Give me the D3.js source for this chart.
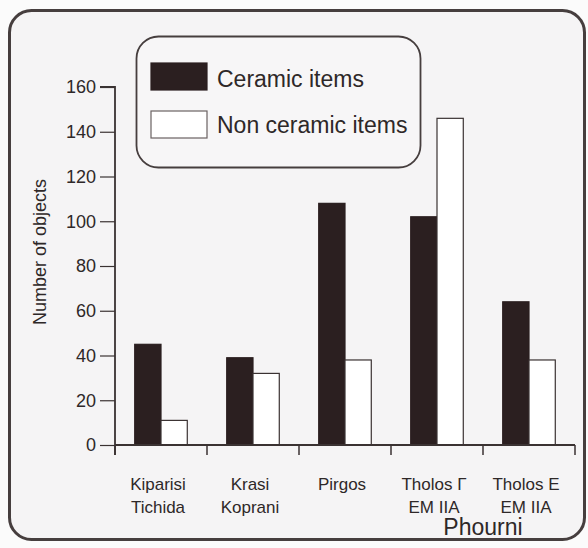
<!DOCTYPE html>
<html>
<head>
<meta charset="utf-8">
<script src="https://cdn.jsdelivr.net/npm/d3@7/dist/d3.min.js"></script>
<style>
  html, body { margin: 0; padding: 0; background: #fbfbfb; }
  svg { display: block; font-family: "Liberation Sans", Arial, sans-serif; }
</style>
</head>
<body>
<svg id="chart" width="588" height="548"></svg>
<script>
// Site names (two-line labels) and object counts per series
const sites = ["Kiparisi|Tichida", "Krasi|Koprani", "Pirgos", "Tholos \u0393|EM IIA", "Tholos E|EM IIA"];
const ceramic = [45, 39, 108, 102, 64];
const nonCeramic = [11, 32, 38, 146, 38];
const seriesNames = ["Ceramic items", "Non ceramic items"];
const yTicks = [0, 20, 40, 60, 80, 100, 120, 140, 160];

const ink = "#3a3232";
const textInk = "#2e2828";
const darkFill = "#2b1f20";

const svg = d3.select("#chart");

// Outer rounded frame
svg.append("rect")
  .attr("x", 9.5).attr("y", 10.5)
  .attr("width", 575).attr("height", 529)
  .attr("rx", 22).attr("ry", 22)
  .attr("fill", "#f5f4f5")
  .attr("stroke", "#463e3e")
  .attr("stroke-width", 3);

const margin = { left: 115, right: 13, top: 87, bottom: 103 };
const W = 588, H = 548;

const x = d3.scaleBand()
  .domain(sites)
  .range([margin.left, W - margin.right])
  .paddingInner(0)
  .paddingOuter(0);

const y = d3.scaleLinear()
  .domain([0, 160])
  .range([H - margin.bottom, margin.top]);

const inner = d3.scaleBand()
  .domain(seriesNames)
  .range([0, x.bandwidth()])
  .paddingOuter(0.75)
  .paddingInner(0);

// Bars
const g = svg.append("g");
sites.forEach((s, i) => {
  const vals = [ceramic[i], nonCeramic[i]];
  vals.forEach((v, k) => {
    g.append("rect")
      .attr("x", x(s) + inner(seriesNames[k]))
      .attr("y", y(v))
      .attr("width", inner.bandwidth())
      .attr("height", y(0) - y(v))
      .attr("fill", k === 0 ? darkFill : "#ffffff")
      .attr("stroke", k === 0 ? darkFill : ink)
      .attr("stroke-width", 1.2);
  });
});

// Y axis
const yAxis = d3.axisLeft(y).tickValues(yTicks).tickSize(15).tickPadding(4);
const yg = svg.append("g")
  .attr("transform", `translate(${margin.left},0)`)
  .call(yAxis);
yg.select(".domain").attr("stroke", ink).attr("stroke-width", 1.8).attr("d", `M-15,${y(160)}H0V${y(0) + 10}`);
yg.selectAll(".tick line").attr("stroke", ink).attr("stroke-width", 1.2);
yg.selectAll(".tick text")
  .attr("fill", textInk)
  .attr("font-size", 18)
  .attr("font-family", "Liberation Sans, Arial, sans-serif");

// X axis with boundary ticks between categories
const xBounds = sites.map(s => x(s)).concat([x(sites[sites.length - 1]) + x.bandwidth()]);
const xg = svg.append("g");
xg.append("line")
  .attr("x1", margin.left).attr("x2", xBounds[xBounds.length - 1])
  .attr("y1", y(0)).attr("y2", y(0))
  .attr("stroke", ink).attr("stroke-width", 1.8);
xg.selectAll("line.tk").data(xBounds).join("line")
  .attr("class", "tk")
  .attr("x1", d => d).attr("x2", d => d)
  .attr("y1", y(0)).attr("y2", y(0) + 10)
  .attr("stroke", ink).attr("stroke-width", 1.5);

// Category labels
sites.forEach(s => {
  const lines = s.split("|");
  const cx = x(s) + x.bandwidth() / 2 - 3;
  lines.forEach((ln, j) => {
    svg.append("text")
      .attr("x", cx)
      .attr("y", 490 + j * 23)
      .attr("text-anchor", "middle")
      .attr("font-size", 17)
      .attr("fill", textInk)
      .text(ln);
  });
});

// Group label under the two Phourni tombs
svg.append("text")
  .attr("x", x(sites[3]) + x.bandwidth())
  .attr("y", 535)
  .attr("text-anchor", "middle")
  .attr("font-size", 23)
  .attr("fill", textInk)
  .text("Phourni");

// Y axis title
svg.append("text")
  .attr("transform", `translate(46,252) rotate(-90)`)
  .attr("text-anchor", "middle")
  .attr("font-size", 18)
  .attr("fill", textInk)
  .text("Number of objects");

// Legend
const lg = svg.append("g");
lg.append("rect")
  .attr("x", 136.5).attr("y", 36.5)
  .attr("width", 284).attr("height", 131)
  .attr("rx", 22).attr("ry", 22)
  .attr("fill", "#f7f6f7")
  .attr("stroke", "#463e3e")
  .attr("stroke-width", 1.8);
seriesNames.forEach((n, k) => {
  lg.append("rect")
    .attr("x", 151).attr("y", 63 + k * 48)
    .attr("width", 56).attr("height", 27)
    .attr("fill", k === 0 ? darkFill : "#ffffff")
    .attr("stroke", k === 0 ? darkFill : "#6a6262")
    .attr("stroke-width", 1.2);
  lg.append("text")
    .attr("x", 217).attr("y", 87 + k * 46)
    .attr("font-size", 23)
    .attr("fill", textInk)
    .text(n);
});
</script>
</body>
</html>
